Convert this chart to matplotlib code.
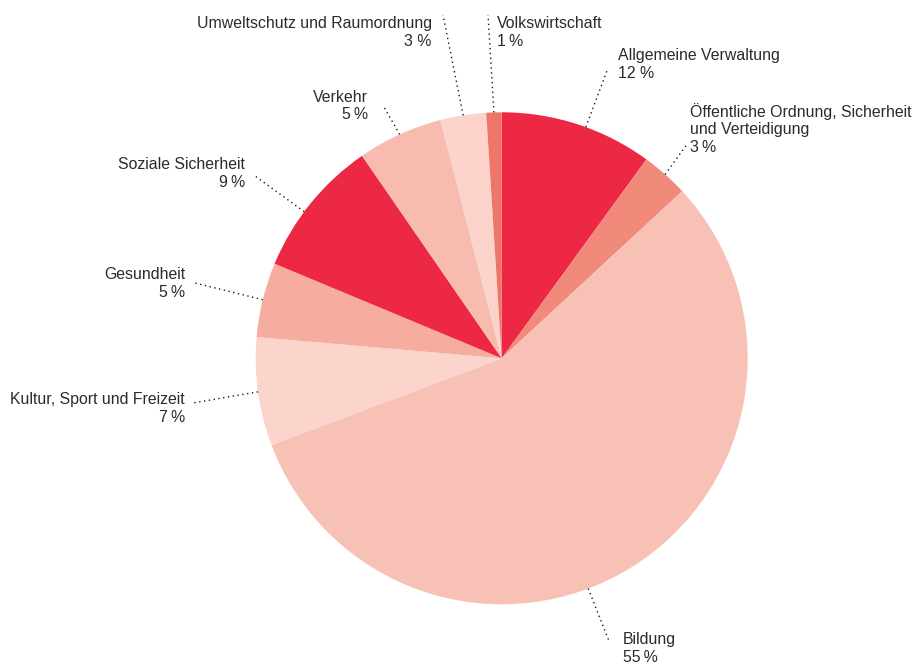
#!/usr/bin/env python3
"""Pie chart of expenditure shares by function, with dotted leader labels."""
import numpy as np
import matplotlib
matplotlib.use("Agg")
import matplotlib.pyplot as plt

# --- data (clockwise from 12 o'clock) ---
categories = [
    "Allgemeine Verwaltung",
    "Öffentliche Ordnung, Sicherheit\nund Verteidigung",
    "Bildung",
    "Kultur, Sport und Freizeit",
    "Gesundheit",
    "Soziale Sicherheit",
    "Verkehr",
    "Umweltschutz und Raumordnung",
    "Volkswirtschaft",
]
# wedge sizes
shares = [10.0, 3.1, 56.1, 7.1, 4.9, 9.1, 5.6, 3.0, 1.0]
# printed percentages
pct_labels = ["12 %", "3\u2009%", "55\u2009%", "7\u2009%", "5\u2009%",
              "9\u2009%", "5\u2009%", "3 %", "1\u2009%"]
colors = ["#EC2844", "#F28A7C", "#F8C1B6", "#FBD4CB", "#F6AC9F",
          "#EC2844", "#F8BBAF", "#FBD3CA", "#F07569"]

# --- layout (pixel coords, y measured from top) ---
W, H = 915, 663
CX, CY, R = 501.7, 358.3, 246
# text anchor (x, y-centre), alignment, leader end near text, leader angle override (deg)
label_pos = [
    (618, 64.5, "left", (608, 68), 70.0),
    (690, 129, "left", (688, 143), None),
    (623, 648.5, "left", (609, 641), -69.4),
    (185, 408.5, "right", (193, 403), None),
    (185, 283.5, "right", (195, 283), None),
    (245, 173.5, "right", (255, 176), 143.4),
    (368, 106, "right", (384, 107), None),
    (432, 32.5, "right", (443, 15), None),
    (497, 32.5, "left", (488, 15), None),
]

plt.rcParams["font.family"] = ["Liberation Sans", "DejaVu Sans"]

fig = plt.figure(figsize=(W / 100, H / 100), dpi=100)
ax = fig.add_axes([0, 0, 1, 1])
ax.axis("off")

wedges, _ = ax.pie(shares, colors=colors, startangle=90, counterclock=False,
                   center=(CX, H - CY), radius=R,
                   wedgeprops=dict(linewidth=0))
ax.set_xlim(0, W)
ax.set_ylim(0, H)
ax.set_aspect("equal")

for w, cat, pct, (tx, ty, ha, (lx, ly), ang) in zip(wedges, categories, pct_labels, label_pos):
    if ang is None:
        ang = (w.theta1 + w.theta2) / 2
    a = np.deg2rad(ang)
    px, py = CX + R * np.cos(a), (H - CY) + R * np.sin(a)
    ax.plot([px, lx], [py, H - ly], color="#1a1a1a", lw=1.0,
            linestyle=(0, (1, 2.5)), solid_capstyle="butt")
    ax.text(tx, H - ty, f"{cat}\n{pct}", ha=ha, va="center", multialignment=ha,
            fontsize=11.4, color="#2b2b2b", linespacing=1.2)

fig.savefig("out.png", dpi=100)
